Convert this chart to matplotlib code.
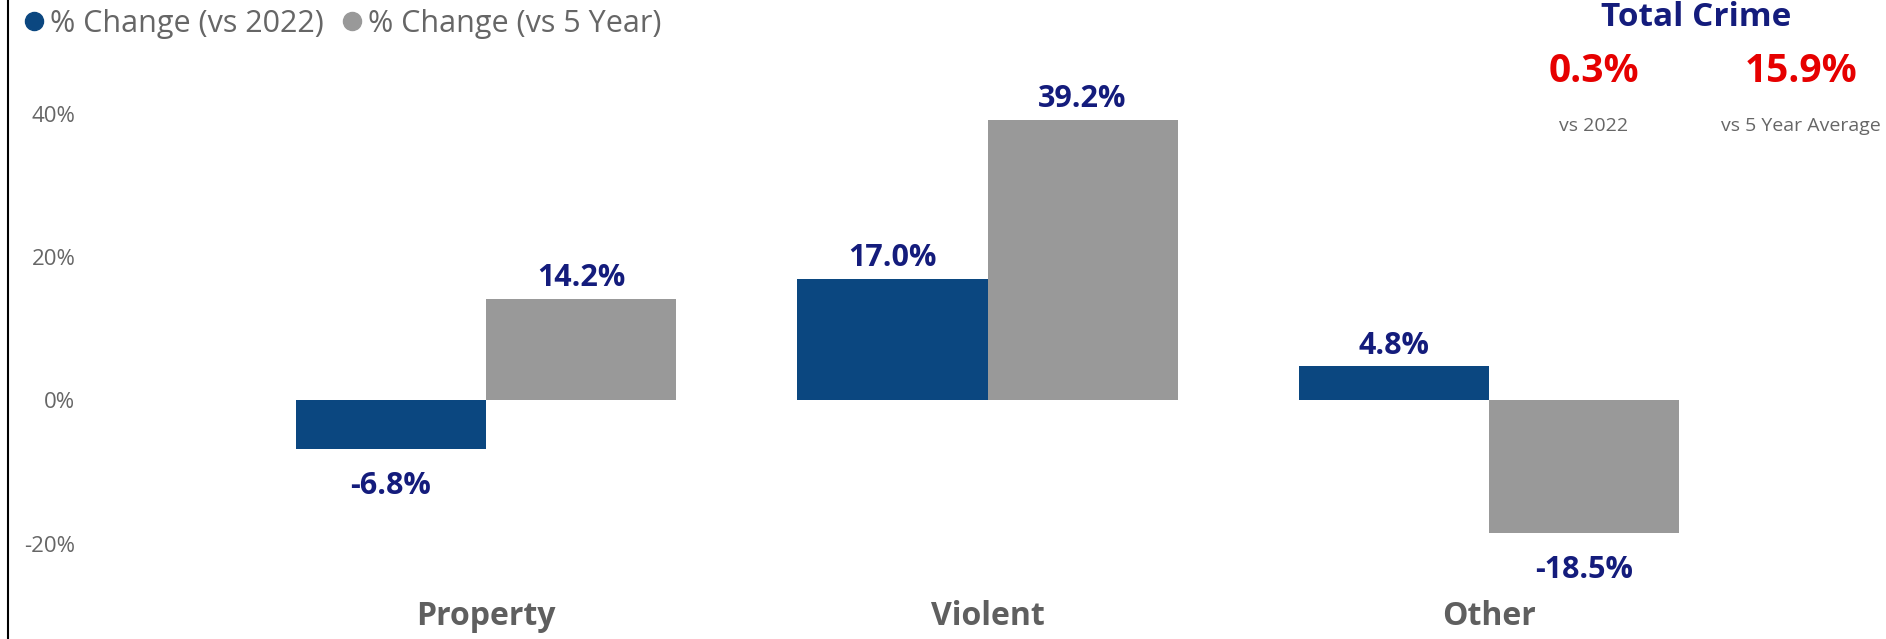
import numpy as np
import matplotlib.pyplot as plt
from matplotlib.lines import Line2D
from matplotlib.ticker import FuncFormatter

# datos del grafico
categorias = ['Property', 'Violent', 'Other']
cambio_2022 = [-6.8, 17.0, 4.8]
cambio_5anios = [14.2, 39.2, -18.5]
serie_nombres = ['% Change (vs 2022)', '% Change (vs 5 Year)']
total_valores = ['0.3%', '15.9%']
total_etiquetas = ['vs 2022', 'vs 5 Year Average']
y_ticks = [-20, 0, 20, 40]

# colores
azul = '#0b4780'
gris = '#999999'
azul_texto = '#141c7c'
rojo = '#e60000'
gris_texto = '#666666'

plt.rcParams['font.family'] = ['Open Sans', 'DejaVu Sans']

W, H = 1886, 639
fig = plt.figure(figsize=(W / 100, H / 100), dpi=100)

# ejes ubicados en pixeles para coincidir con la referencia
ax = fig.add_axes([94.8 / W, (H - 579.4) / H, 1785.4 / W, 508.1 / H])
ax.set_xlim(-0.78, 2.78)
ax.set_ylim(-25, 46)

x = np.arange(len(categorias))
ancho = 0.379
b1 = ax.bar(x - ancho / 2, cambio_2022, ancho, color=azul)
b2 = ax.bar(x + ancho / 2, cambio_5anios, ancho, color=gris)

# etiquetas de valores sobre / bajo cada barra
for barras, valores in [(b1, cambio_2022), (b2, cambio_5anios)]:
    for rect, v in zip(barras, valores):
        cx = rect.get_x() + rect.get_width() / 2
        if v >= 0:
            ax.annotate(f'{v:.1f}%', (cx, v), xytext=(0, 4), textcoords='offset points',
                        ha='center', va='bottom', fontsize=22, fontweight='bold', color=azul_texto)
        else:
            ax.annotate(f'{v:.1f}%', (cx, v), xytext=(0, -16), textcoords='offset points',
                        ha='center', va='top', fontsize=22, fontweight='bold', color=azul_texto)

for s in ax.spines.values():
    s.set_visible(False)
ax.set_yticks(y_ticks)
ax.yaxis.set_major_formatter(FuncFormatter(lambda v, p: f'{v:.0f}%'))
ax.set_xticks(x)
ax.set_xticklabels(categorias, fontsize=23, fontweight='bold', color='#5f5f5f')
ax.tick_params(axis='y', length=0, pad=14, labelsize=16, labelcolor=gris_texto)
ax.tick_params(axis='x', length=0, pad=15)

# leyenda con circulos
manejadores = [Line2D([], [], marker='o', linestyle='none', markersize=13, color=c) for c in (azul, gris)]
fig.legend(manejadores, serie_nombres, loc='center left', bbox_to_anchor=(22 / W, 1 - 24 / H),
           ncol=2, frameon=False, fontsize=22, labelcolor=gris_texto, handlelength=0.8,
           handletextpad=0.1, columnspacing=0.55, borderpad=0, borderaxespad=0)

# bloque "Total Crime"
fig.text(1696 / W, 1 - 18 / H, 'Total Crime', ha='center', va='center', fontsize=24,
         fontweight='bold', color=azul_texto)
for cx, val, lab in zip([1594, 1801], total_valores, total_etiquetas):
    fig.text(cx / W, 1 - 72 / H, val, ha='center', va='center', fontsize=28, fontweight='bold', color=rojo)
    fig.text(cx / W, 1 - 126 / H, lab, ha='center', va='center', fontsize=14, color=gris_texto)

# linea negra del borde izquierdo
fig.add_artist(Line2D([8 / W, 8 / W], [0, 1], transform=fig.transFigure, color='black', lw=1.5))

plt.savefig('out.png', dpi=100)
